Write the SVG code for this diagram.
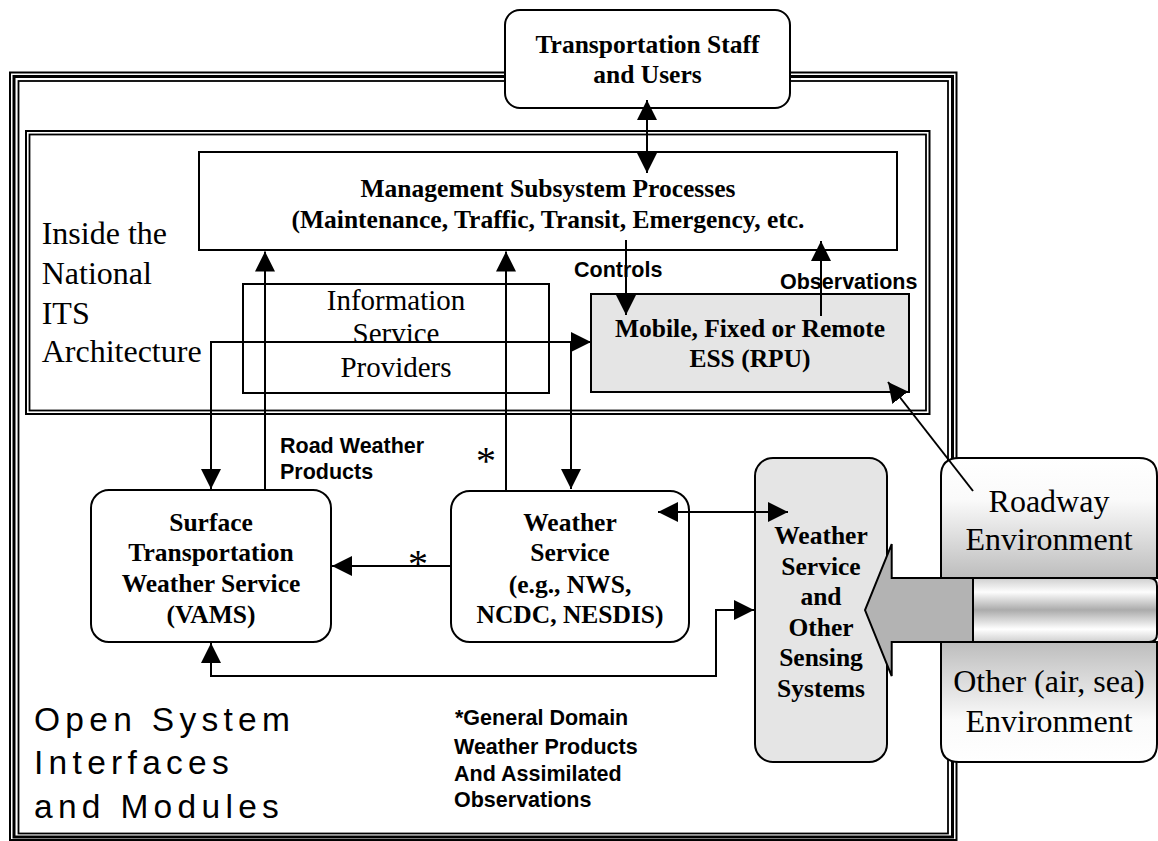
<svg xmlns="http://www.w3.org/2000/svg" width="1158" height="841" viewBox="0 0 1158 841">
<style>
.box{fill:#fff;stroke:#000;stroke-width:2}
.open{fill:none;stroke:#000;stroke-width:2}
.gray{fill:#e5e5e5;stroke:#000;stroke-width:2}
.tb{font-family:"Liberation Serif","Times New Roman",serif;font-weight:bold;font-size:25.5px;text-anchor:middle;fill:#000}
.tr{font-family:"Liberation Serif","Times New Roman",serif;font-size:32px;fill:#000}
.ts{font-family:"Liberation Serif","Times New Roman",serif;font-size:29px;text-anchor:middle;fill:#000}
.ab{font-family:"Liberation Sans",Arial,sans-serif;font-weight:bold;font-size:21.5px;fill:#000}
.os{font-family:"Liberation Sans",Arial,sans-serif;font-size:33.5px;letter-spacing:5.3px;fill:#000}
.ast{font-family:"Liberation Serif","Times New Roman",serif;font-size:40px;text-anchor:middle;fill:#000}
.conn{fill:none;stroke:#000;stroke-width:2}
</style>
<defs>
<marker id="ah" viewBox="0 0 20 20" refX="20" refY="10" markerWidth="20" markerHeight="20" markerUnits="userSpaceOnUse" orient="auto-start-reverse"><path d="M0,0 L20,10 L0,20 z" fill="#000"/></marker>
<linearGradient id="gTop" x1="0" y1="0" x2="0" y2="1"><stop offset="0" stop-color="#fff"/><stop offset="0.35" stop-color="#fafafa"/><stop offset="1" stop-color="#bdbdbd"/></linearGradient>
<linearGradient id="gBot" x1="0" y1="0" x2="0" y2="1"><stop offset="0" stop-color="#bdbdbd"/><stop offset="0.65" stop-color="#fafafa"/><stop offset="1" stop-color="#fff"/></linearGradient>
<linearGradient id="gBar" x1="0" y1="0" x2="0" y2="1"><stop offset="0" stop-color="#cfcfcf"/><stop offset="0.22" stop-color="#fdfdfd"/><stop offset="0.5" stop-color="#ababab"/><stop offset="0.8" stop-color="#ffffff"/><stop offset="1" stop-color="#cfcfcf"/></linearGradient>
</defs>

<g id="open-system-frame">
<rect x="10" y="72.5" width="946.5" height="767.5" fill="none" stroke="#000" stroke-width="2"/>
<rect x="14" y="76.5" width="938.5" height="760.5" fill="none" stroke="#000" stroke-width="3"/>
<rect x="18.5" y="81" width="929.5" height="752.5" fill="none" stroke="#000" stroke-width="1.8"/>
<text class="os" x="34" y="731">Open System</text>
<text class="os" x="34" y="774">Interfaces</text>
<text class="os" x="34" y="818">and Modules</text>
</g>

<g id="its-frame">
<rect x="26" y="131" width="903.5" height="283" fill="none" stroke="#000" stroke-width="2"/>
<rect x="29.5" y="134.5" width="896.5" height="276" fill="none" stroke="#000" stroke-width="1.8"/>
<text class="tr" x="41.7" y="244">Inside the</text>
<text class="tr" x="41.7" y="284">National</text>
<text class="tr" x="41.7" y="324">ITS</text>
<text class="tr" x="41.7" y="362">Architecture</text>
</g>

<g id="transportation-staff">
<rect class="box" x="505" y="10" width="285" height="98" rx="15"/>
<text class="tb" x="647.5" y="53">Transportation Staff</text>
<text class="tb" x="647.5" y="83">and Users</text>
</g>

<g id="management">
<rect class="box" x="199" y="152" width="698" height="98"/>
<text class="tb" x="548" y="197">Management Subsystem Processes</text>
<text class="tb" x="548" y="228">(Maintenance, Traffic, Transit, Emergency, etc.</text>
</g>

<g id="isp">
<rect class="open" x="243" y="284" width="306" height="109"/>
<text class="ts" x="396" y="310">Information</text>
<text class="ts" x="396" y="343">Service</text>
<text class="ts" x="396" y="377">Providers</text>
</g>

<g id="ess">
<rect class="gray" x="591" y="294" width="318" height="98"/>
<text class="tb" x="750" y="337">Mobile, Fixed or Remote</text>
<text class="tb" x="750" y="367">ESS (RPU)</text>
</g>

<g id="stws">
<rect class="box" x="91" y="490" width="240" height="152" rx="18"/>
<text class="tb" x="211" y="531">Surface</text>
<text class="tb" x="211" y="561">Transportation</text>
<text class="tb" x="211" y="592">Weather Service</text>
<text class="tb" x="211" y="623">(VAMS)</text>
</g>

<g id="weather-service">
<rect class="box" x="451" y="491" width="238" height="151" rx="19"/>
<text class="tb" x="570" y="531">Weather</text>
<text class="tb" x="570" y="561">Service</text>
<text class="tb" x="570" y="593">(e.g., NWS,</text>
<text class="tb" x="570" y="623">NCDC, NESDIS)</text>
</g>

<g id="sensing-systems">
<rect class="gray" x="755" y="458" width="132" height="304" rx="18"/>
<text class="tb" x="821" y="544">Weather</text>
<text class="tb" x="821" y="574.5">Service</text>
<text class="tb" x="821" y="605">and</text>
<text class="tb" x="821" y="635.5">Other</text>
<text class="tb" x="821" y="666">Sensing</text>
<text class="tb" x="821" y="696.5">Systems</text>
</g>

<g id="roadway-environment">
<path d="M941,578 V476 Q941,458 959,458 H1139 Q1157,458 1157,476 V578 Z" fill="url(#gTop)" stroke="#000" stroke-width="2"/>
<text class="tr" x="1049" y="512" text-anchor="middle">Roadway</text>
<text class="tr" x="1049" y="550" text-anchor="middle">Environment</text>
</g>

<g id="other-environment">
<path d="M941,642 V744 Q941,762 959,762 H1139 Q1157,762 1157,744 V642 Z" fill="url(#gBot)" stroke="#000" stroke-width="2"/>
<text class="tr" x="1049" y="692" text-anchor="middle">Other (air, sea)</text>
<text class="tr" x="1049" y="732" text-anchor="middle">Environment</text>
</g>

<g id="environment-arrow">
<path d="M973,578 H1149 Q1157,578 1157,586 V634 Q1157,642 1149,642 H973 Z" fill="url(#gBar)" stroke="#000" stroke-width="2"/>
<polygon points="865,610 891.7,544 891.7,578 973,578 973,642 891.7,642 891.7,676" fill="#b3b3b3" stroke="#000" stroke-width="2"/>
</g>

<g id="connectors">
<path class="conn" d="M647,100 V173" marker-start="url(#ah)" marker-end="url(#ah)"/>
<path class="conn" d="M626,240 V315" marker-end="url(#ah)"/>
<path class="conn" d="M821,316 V241" marker-end="url(#ah)"/>
<path class="conn" d="M265,491 V251.5" marker-end="url(#ah)"/>
<path class="conn" d="M506,491 V251.5" marker-end="url(#ah)"/>
<path class="conn" d="M211,489 V342 H591" marker-start="url(#ah)" marker-end="url(#ah)"/>
<path class="conn" d="M571,342 V489" marker-end="url(#ah)"/>
<path class="conn" d="M451,566 H332" marker-end="url(#ah)"/>
<path class="conn" d="M658,512 H788" marker-start="url(#ah)" marker-end="url(#ah)"/>
<path class="conn" d="M211,643 V676 H716 V610 H754" marker-start="url(#ah)" marker-end="url(#ah)"/>
<path class="conn" d="M973,491 L888,382" marker-end="url(#ah)"/>
</g>

<g id="labels">
<text class="ab" x="574" y="277">Controls</text>
<text class="ab" x="780" y="289">Observations</text>
<text class="ab" x="280" y="453">Road Weather</text>
<text class="ab" x="280" y="479">Products</text>
<text class="ast" x="486" y="474">*</text>
<text class="ast" x="418" y="577">*</text>
<text class="ab" x="455" y="725">*General Domain</text>
<text class="ab" x="454" y="754">Weather Products</text>
<text class="ab" x="454" y="781">And Assimilated</text>
<text class="ab" x="454" y="807">Observations</text>
</g>
</svg>
